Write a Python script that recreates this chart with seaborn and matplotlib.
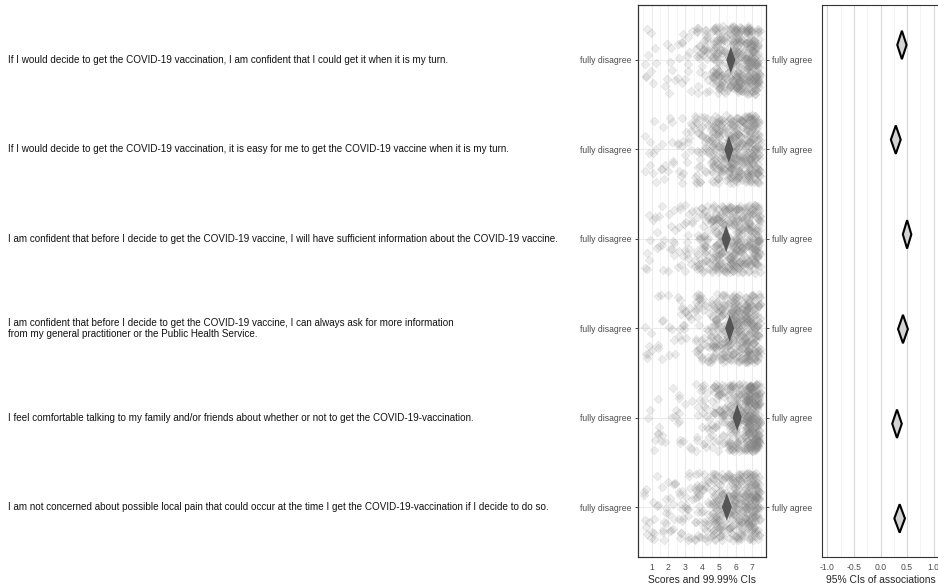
import numpy as np
import pandas as pd
import seaborn as sns
import matplotlib.pyplot as plt
from matplotlib.transforms import blended_transform_factory

sns.set_style("white")
plt.rcParams["font.family"] = ["Liberation Sans", "DejaVu Sans"]

items = [
    "If I would decide to get the COVID-19 vaccination, I am confident that I could get it when it is my turn.",
    "If I would decide to get the COVID-19 vaccination, it is easy for me to get the COVID-19 vaccine when it is my turn.",
    "I am confident that before I decide to get the COVID-19 vaccine, I will have sufficient information about the COVID-19 vaccine.",
    "I am confident that before I decide to get the COVID-19 vaccine, I can always ask for more information\nfrom my general practitioner or the Public Health Service.",
    "I feel comfortable talking to my family and/or friends about whether or not to get the COVID-19-vaccination.",
    "I am not concerned about possible local pain that could occur at the time I get the COVID-19-vaccination if I decide to do so.",
]
scores = [1, 2, 3, 4, 5, 6, 7]
# number of respondents per answer option (1..7), estimated from the dots
counts = [
    [10, 8, 15, 35, 90, 130, 160],
    [10, 12, 18, 40, 95, 130, 145],
    [12, 14, 22, 50, 100, 125, 125],
    [10, 10, 18, 40, 90, 130, 150],
    [8, 7, 12, 25, 55, 110, 240],
    [16, 20, 24, 45, 85, 110, 150],
]
# 99.99% CI of the means
mean_lo = [5.45, 5.33, 5.16, 5.38, 5.83, 5.18]
mean_hi = [5.99, 5.87, 5.72, 5.92, 6.37, 5.78]
# 95% CI of associations
assoc_lo = [0.315, 0.195, 0.42, 0.33, 0.22, 0.26]
assoc_hi = [0.49, 0.38, 0.58, 0.515, 0.40, 0.46]

rows = np.arange(1, len(items) + 1)

recs = []
for r, cnt in zip(rows, counts):
    for s, c in zip(scores, cnt):
        recs += [(r, s)] * c
df = pd.DataFrame(recs, columns=["row", "score"])

# jitter, as in the original dot plot
rng = np.random.default_rng(3)
df["xj"] = df["score"] + rng.uniform(-0.45, 0.45, len(df))
df["yj"] = df["row"] + rng.uniform(-0.38, 0.38, len(df))

W, H = 938, 587
fig = plt.figure(figsize=(W / 100, H / 100), dpi=100)
ax = fig.add_axes([638 / W, 1 - 557 / H, 128 / W, 552 / H])
axr = fig.add_axes([822 / W, 1 - 557 / H, 117 / W, 552 / H])

grey_txt = "#4d4d4d"

# left panel: scores
sns.scatterplot(data=df, x="xj", y="yj", ax=ax, marker="D", s=20,
                color="#8a8a8a", alpha=0.16, edgecolor="#707070",
                linewidth=0.4, legend=False, zorder=2)
hh = 0.15
for r, lo, hi in zip(rows, mean_lo, mean_hi):
    m = (lo + hi) / 2
    ax.fill([lo, m, hi, m], [r, r - hh, r, r + hh], color="#555555",
            zorder=3, lw=0)

ax.set_xlim(0.183, 7.817)
ax.set_ylim(6.559, 0.385)
ax.set_xticks(scores)
ax.set_xticks(np.arange(0.5, 8, 1), minor=True)
ax.set_yticks(rows)
ax.set_yticklabels(["fully disagree"] * len(rows))
ax.grid(True, which="major", color="#ebebeb", lw=0.8, zorder=0)
ax.grid(True, which="minor", axis="x", color="#f2f2f2", lw=0.5, zorder=0)
ax.set_axisbelow(True)
ax.tick_params(axis="both", which="major", length=2.5, width=0.6,
               color="#333333", labelsize=6.2, labelcolor=grey_txt, pad=2)
ax.tick_params(which="minor", length=0)
ax.set_xlabel("Scores and 99.99% CIs", fontsize=7.4, labelpad=2)
ax.set_ylabel("")

ax2 = ax.twinx()
ax2.set_ylim(ax.get_ylim())
ax2.set_yticks(rows)
ax2.set_yticklabels(["fully agree"] * len(rows))
ax2.tick_params(axis="y", length=2.5, width=0.6, color="#333333",
                labelsize=6.2, labelcolor=grey_txt, pad=2)

for a in (ax, ax2):
    for sp in a.spines.values():
        sp.set_color("#333333")
        sp.set_linewidth(0.8)

# item labels
tr = blended_transform_factory(fig.transFigure, ax.transData)
for r, txt in zip(rows, items):
    ax.text(8 / W, r, txt, transform=tr, ha="left", va="center",
            fontsize=7.1, color="#111111", linespacing=1.1)

# right panel: associations
hr = 0.15
for r, lo, hi in zip(rows, assoc_lo, assoc_hi):
    m = (lo + hi) / 2
    axr.fill([lo, m, hi, m], [r, r - hr, r, r + hr], facecolor="#d3d3d3",
             edgecolor="black", lw=1.5, zorder=3)

axr.set_xlim(-1.1, 1.1)
axr.set_ylim(6.407, 0.578)
axr.set_xticks([-1.0, -0.5, 0.0, 0.5, 1.0])
axr.set_xticklabels(["-1.0", "-0.5", "0.0", "0.5", "1.0"])
axr.set_xticks(np.arange(-0.75, 1.0, 0.5), minor=True)
axr.set_yticks([])
axr.grid(True, which="major", axis="x", color="#d6d6d6", lw=0.8, zorder=0)
axr.grid(True, which="minor", axis="x", color="#eeeeee", lw=0.5, zorder=0)
axr.set_axisbelow(True)
axr.tick_params(axis="x", which="major", length=2.5, width=0.6,
                color="#333333", labelsize=6.2, labelcolor=grey_txt, pad=2)
axr.tick_params(which="minor", length=0)
axr.set_xlabel("95% CIs of associations", fontsize=7.4, labelpad=2)
for sp in axr.spines.values():
    sp.set_color("#333333")
    sp.set_linewidth(0.8)

fig.savefig("out.png", dpi=100)
